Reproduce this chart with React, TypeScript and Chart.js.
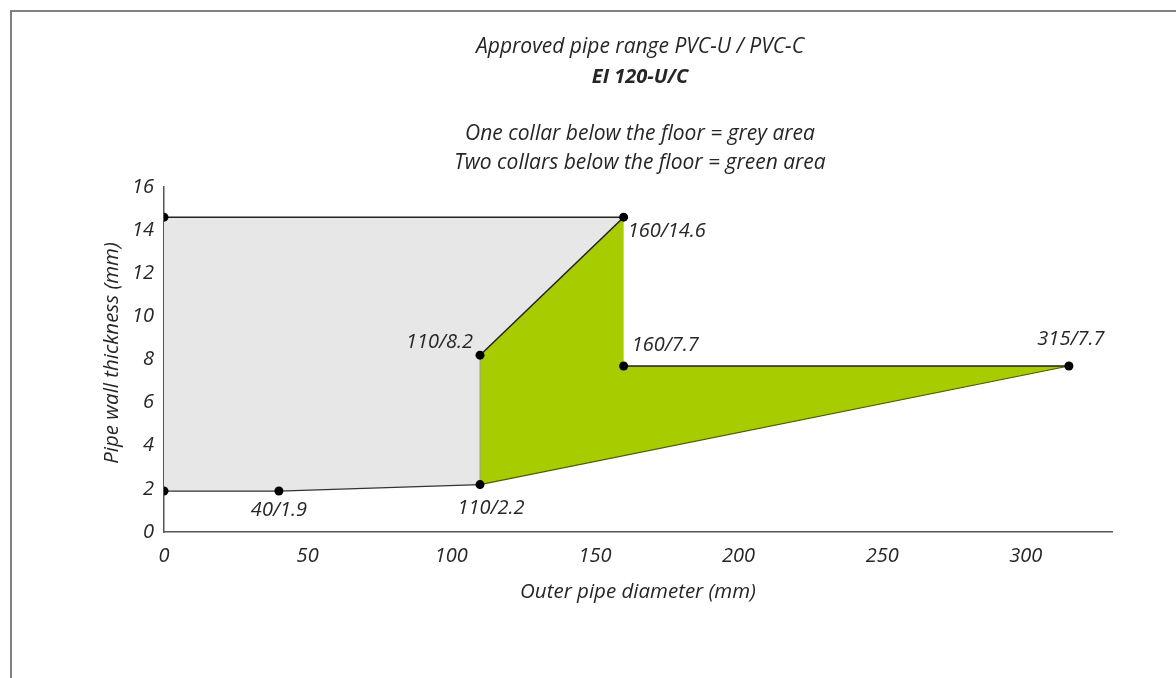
import React, { useEffect, useRef } from "react";
import { Chart, registerables } from "chart.js";

Chart.register(...registerables);

// ---- data ----
const greyAreaX = [0, 160, 110, 110, 40, 0, 0];
const greyAreaY = [14.6, 14.6, 8.2, 2.2, 1.9, 1.9, 14.6];
const greenAreaX = [110, 110, 160, 160, 315, 110];
const greenAreaY = [2.2, 8.2, 14.6, 7.7, 7.7, 2.2];
const pointX = [0, 160, 110, 160, 315, 0, 40, 110];
const pointY = [14.6, 14.6, 8.2, 7.7, 7.7, 1.9, 1.9, 2.2];
const pointLabels = ["", "160/14.6", "110/8.2", "160/7.7", "315/7.7", "", "40/1.9", "110/2.2"];
const topEdgeX = [0, 160];
const topEdgeY = [14.6, 14.6];
const diagEdgeX = [110, 160];
const diagEdgeY = [8.2, 14.6];
const bottomEdgeX = [0, 40, 110];
const bottomEdgeY = [1.9, 1.9, 2.2];
const rightEdgeX = [160, 315];
const rightEdgeY = [7.7, 7.7];
const lowEdgeX = [110, 315];
const lowEdgeY = [2.2, 7.7];
const midEdgeX = [110, 110];
const midEdgeY = [2.2, 8.2];

const titleLines = [
  "Approved pipe range PVC-U / PVC-C",
  "EI 120-U/C",
  "One collar below the floor = grey area",
  "Two collars below the floor = green area",
];
const xTitle = "Outer pipe diameter (mm)";
const yTitle = "Pipe wall thickness (mm)";

const FONT = "'Open Sans', 'Noto Sans', sans-serif";
const TEXT = "#262626";

const zip = (xs: number[], ys: number[]) => xs.map((x, i) => ({ x, y: ys[i] }));

// label styling (offsets relative to points)
const labelStyle: Record<string, { dx: number; dy: number; align: CanvasTextAlign }> = {
  "160/14.6": { dx: 4, dy: 14, align: "left" },
  "110/8.2": { dx: -7, dy: -13, align: "right" },
  "160/7.7": { dx: 8, dy: -21, align: "left" },
  "315/7.7": { dx: 2, dy: -27, align: "center" },
  "40/1.9": { dx: 0, dy: 19, align: "center" },
  "110/2.2": { dx: 11, dy: 24, align: "center" },
};

const textPlugin = {
  id: "textPlugin",
  afterDraw(chart: any) {
    const ctx = chart.ctx as CanvasRenderingContext2D;
    const xs = chart.scales.x;
    const ys = chart.scales.y;
    const area = chart.chartArea;
    ctx.save();
    ctx.fillStyle = TEXT;
    ctx.textBaseline = "middle";
    ctx.textAlign = "center";
    const cx = 640;
    ctx.font = `italic 500 21px ${FONT}`;
    ctx.fillText(titleLines[0], cx, 47);
    ctx.font = `italic 700 20px ${FONT}`;
    ctx.fillText(titleLines[1], cx, 77);
    ctx.font = `italic 500 21px ${FONT}`;
    ctx.fillText(titleLines[2], cx, 134);
    ctx.fillText(titleLines[3], cx, 163);

    // axis titles
    ctx.font = `italic 500 20.5px ${FONT}`;
    ctx.fillText(xTitle, (area.left + area.right) / 2, 592);
    ctx.save();
    ctx.translate(112, 353);
    ctx.rotate(-Math.PI / 2);
    ctx.fillText(yTitle, 0, 0);
    ctx.restore();

    ctx.font = `italic 500 20px ${FONT}`;
    pointLabels.forEach((lab, i) => {
      if (!lab) return;
      const st = labelStyle[lab];
      const px = xs.getPixelForValue(pointX[i]);
      const py = ys.getPixelForValue(pointY[i]);
      ctx.textAlign = st.align;
      ctx.fillText(lab, px + st.dx, py + st.dy);
    });
    ctx.restore();
  },
};

export default function App() {
  const ref = useRef<HTMLCanvasElement | null>(null);
  useEffect(() => {
    if (!ref.current) return;
    const edge = (xs: number[], ys: number[], color: string, w: number) => ({
      data: zip(xs, ys),
      borderColor: color,
      borderWidth: w,
      pointRadius: 0,
      fill: false,
      showLine: true,
    });
    const chart = new Chart(ref.current, {
      type: "line",
      data: {
        datasets: [
          {
            data: zip(greyAreaX, greyAreaY),
            backgroundColor: "#e7e7e7",
            borderWidth: 0,
            pointRadius: 0,
            fill: "shape",
            showLine: true,
            order: 5,
          } as any,
          {
            data: zip(greenAreaX, greenAreaY),
            backgroundColor: "#a7cc00",
            borderWidth: 0,
            pointRadius: 0,
            fill: "shape",
            showLine: true,
            order: 4,
          } as any,
          { ...edge(midEdgeX, midEdgeY, "#9a9a9a", 1), order: 3 },
          { ...edge(lowEdgeX, lowEdgeY, "#4d5a00", 1.2), order: 3 },
          { ...edge(topEdgeX, topEdgeY, "#222", 1.5), order: 2 },
          { ...edge(diagEdgeX, diagEdgeY, "#222", 1.5), order: 2 },
          { ...edge(bottomEdgeX, bottomEdgeY, "#333", 1.3), order: 2 },
          { ...edge(rightEdgeX, rightEdgeY, "#222", 1.5), order: 2 },
          {
            data: zip(pointX, pointY),
            showLine: false,
            pointRadius: 4.5,
            pointBackgroundColor: "#000",
            pointBorderWidth: 0,
            order: 0,
          },
        ],
      },
      options: {
        animation: false,
        responsive: false,
        maintainAspectRatio: false,
        layout: { padding: { top: 187, right: 64, left: 0, bottom: 0 } },
        plugins: { legend: { display: false }, tooltip: { enabled: false }, title: { display: false } },
        elements: { line: { tension: 0 } },
        scales: {
          x: {
            type: "linear",
            min: 0,
            max: 330,
            grid: { display: false, drawTicks: false },
            border: { display: true, color: "#555", width: 1.5 },
            ticks: {
              stepSize: 50,
              includeBounds: false,
              color: TEXT,
              padding: 12,
              maxRotation: 0,
              font: { family: FONT, size: 20, style: "italic", weight: "500" },
            },
            afterFit: (s: any) => {
              s.height = 146;
            },
          },
          y: {
            type: "linear",
            min: 0,
            max: 16,
            grid: { display: false, drawTicks: false },
            border: { display: true, color: "#555", width: 1.5 },
            ticks: {
              stepSize: 2,
              color: TEXT,
              padding: 10,
              font: { family: FONT, size: 20, style: "italic", weight: "500" },
            },
            afterFit: (s: any) => {
              s.width = 164;
            },
          },
        },
      },
      plugins: [textPlugin],
    } as any);
    return () => chart.destroy();
  }, []);

  return (
    <div style={{ position: "fixed", left: 0, top: 0, width: 1176, height: 678, background: "#fff" }}>
      <canvas ref={ref} width={1176} height={678} style={{ position: "absolute", left: 0, top: 0 }} />
      <div
        style={{
          position: "absolute",
          left: 10,
          top: 10,
          width: 1166,
          height: 668,
          borderTop: "2px solid #808080",
          borderLeft: "2px solid #808080",
          pointerEvents: "none",
        }}
      />
    </div>
  );
}
